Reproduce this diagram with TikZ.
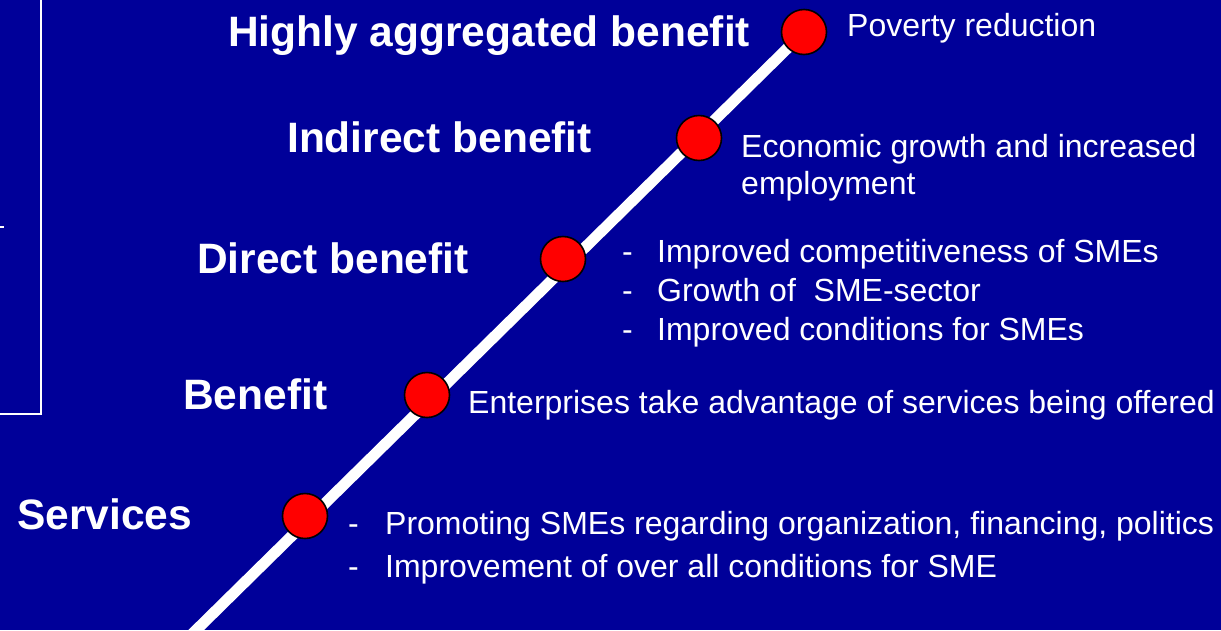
\documentclass[tikz,border=0pt]{standalone}
\usepackage{fontspec}
\setmainfont{Liberation Sans}
\definecolor{bgblue}{RGB}{0,0,153}
\tikzset{
  lbl/.style={anchor=base west, inner sep=0pt, text=white, font=\fontsize{42.5}{48}\selectfont\bfseries},
  desc/.style={anchor=base west, inner sep=0pt, text=white, font=\fontsize{32}{37}\selectfont},
  dot/.style={circle, fill=red, draw=black, line width=1.6pt, minimum size=45pt, inner sep=0pt},
  frame/.style={draw=white, line width=1.5pt},
}
\begin{document}
\begin{tikzpicture}[x=1pt,y=-1pt]
\useasboundingbox (0,0) rectangle (1221,630);
\clip (0,0) rectangle (1221,630);
\fill[bgblue] (0,0) rectangle (1221,630);
% left frame
\coordinate (f1) at (41,-2);
\coordinate (f2) at (41,414);
\coordinate (f3) at (-2,414);
\draw[frame] (f1) -- (f2) -- (f3);
\coordinate (t1) at (0,227);
\coordinate (t2) at (3.5,227);
\draw[white, line width=2.5pt] (t1) -- (t2);
% diagonal line
\coordinate (top) at (804,32);
\coordinate (bot) at (184,642);
\draw[white, line width=11pt] (bot) -- (top);
% circles
\node[dot] (c1) at (top) {};
\node[dot] (c2) at (699,138) {};
\node[dot] (c3) at (563,259) {};
\node[dot] (c4) at (427,395) {};
\node[dot] (c5) at (305,516) {};
% left labels
\node[lbl] (l1) at (228,46) {Highly aggregated benefit};
\node[lbl] (l2) at (287,152) {Indirect benefit};
\node[lbl] (l3) at (197,273) {Direct benefit};
\node[lbl] (l4) at (183,409) {Benefit};
\node[lbl] (l5) at (17,529) {Services};
% right descriptions
\node[desc] (d1) at (847,36) {Poverty reduction};
\node[desc] (d2a) at (741,157) {Economic growth and increased};
\node[desc] (d2b) at (741,194) {employment};
\node[desc] (d3a) at (622,262) {\makebox[35pt][l]{-}Improved competitiveness of SMEs};
\node[desc] (d3b) at (622,301) {\makebox[35pt][l]{-}Growth of\ \ SME-sector};
\node[desc] (d3c) at (622,340) {\makebox[35pt][l]{-}Improved conditions for SMEs};
\node[desc] (d4) at (468,413) {Enterprises take advantage of services being offered};
\node[desc] (d5a) at (348,534) {\makebox[37pt][l]{-}Promoting SMEs regarding organization, financing, politics};
\node[desc] (d5b) at (348,577) {\makebox[37pt][l]{-}Improvement of over all conditions for SME};
\end{tikzpicture}
\end{document}
